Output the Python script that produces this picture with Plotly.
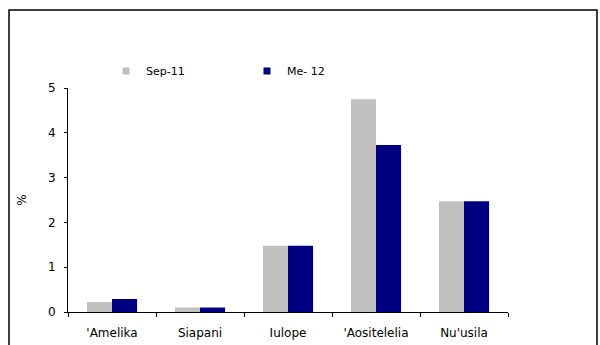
import plotly.graph_objects as go

categories = ["'Amelika", "Siapani", "Iulope", "'Aositelelia", "Nu'usila"]
sep11 = [0.22, 0.1, 1.48, 4.75, 2.47]
me12 = [0.29, 0.1, 1.48, 3.73, 2.47]
series_names = ["Sep-11", "Me- 12"]
colors = ["#C0C0C0", "#000080"]
y_ticks = [0, 1, 2, 3, 4, 5]

W, H = 600, 345
L, R, T, B = 68, 508, 88, 312
pw, ph = R - L, B - T

def px_x(x):
    return (x - L) / pw

def px_y(y):
    return (B - y) / ph

fig = go.Figure()
for name, vals, col in zip(series_names, [sep11, me12], colors):
    fig.add_trace(go.Bar(x=categories, y=vals, name=name, marker_color=col,
                         marker_line_width=0, showlegend=False, legendgroup=name))
    fig.add_trace(go.Scatter(x=[None], y=[None], mode="markers", name=name, legendgroup=name,
                             marker=dict(symbol="square", size=7, color=col), showlegend=True))

FONT = "DejaVu Sans, Liberation Sans, Arial, sans-serif"
fig.update_layout(
    width=W, height=H,
    margin=dict(l=L, r=W - R, t=T, b=H - B, pad=0, autoexpand=False),
    paper_bgcolor="white", plot_bgcolor="white",
    barmode="group", bargap=0.43, bargroupgap=0,
    font=dict(family=FONT, size=12, color="black"),
    showlegend=True,
    legend=dict(orientation="h", x=px_x(106), y=px_y(71), xanchor="left", yanchor="middle",
                font=dict(size=11), entrywidth=96, entrywidthmode="pixels",
                itemwidth=30, bgcolor="rgba(0,0,0,0)", tracegroupgap=0),
    xaxis=dict(showline=True, linecolor="black", linewidth=1, ticks="outside", ticklen=4,
               tickcolor="black", tickson="boundaries", showgrid=False, fixedrange=True,
               tickfont=dict(size=12), ticklabelstandoff=10, automargin=False),
    yaxis=dict(range=[0, 5], tickvals=y_ticks, showline=True, linecolor="black", linewidth=1,
               ticks="outside", ticklen=3, tickcolor="black", showgrid=False, zeroline=False,
               ticklabelstandoff=6, automargin=False, fixedrange=True,
               title=dict(text="%", standoff=18, font=dict(size=12)), tickfont=dict(size=12)),
    shapes=[dict(type="rect", xref="paper", yref="paper",
                 x0=px_x(9), x1=px_x(597), y0=px_y(360), y1=px_y(10),
                 line=dict(color="black", width=1.5), fillcolor="rgba(0,0,0,0)", layer="below")],
)

fig.write_html(
    "out.html",
    config={"displayModeBar": False},
    post_script="document.body.style.margin='0';document.body.style.overflow='hidden';",
)
